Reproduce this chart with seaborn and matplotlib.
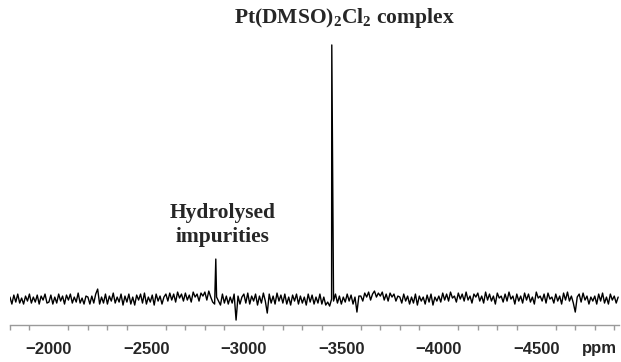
import numpy as np
import pandas as pd
import matplotlib
matplotlib.use("Agg")
import matplotlib.pyplot as plt
import seaborn as sns

# chemical shift grid of the baseline (ppm), 10 ppm steps
ppm_start = -1800
ppm_step = -10

# baseline noise (arbitrary units, one row = 200 ppm)
noise = [
    2, -5, 4, -3, 5, -4, 1, -5, 3, -2, 5, -4, 2, -3, 4, -5, 3, -1, 5, -4,
    -3, 4, -5, 2, -4, 5, -2, 3, -5, 4, -1, 5, -4, 2, -3, 6, -4, 1, -5, 3,
    2, -5, 3, -4, 5, 10, -5, 2, -4, 5, -5, 3, -2, 6, -4, 2, -3, 5, -6, 3,
    -3, 5, -5, 2, -6, 4, -1, 5, -4, 6, -5, 2, -3, 4, -6, 5, -2, 3, -5, 2,
    5, -2, 6, -1, 5, -3, 7, 1, 5, -2, 6, -1, 4, -3, 7, 2, 5, -2, 6, 3,
    7, -1, 8, 2, -3, -5, 2, -2, -6, 5, -4, 3, -5, 2, -4, 5, -21, 3, -5, 2,
    5, -4, 6, -5, 3, -2, 5, -6, 3, -4, 6, -2, -14, 5, -4, 3, -5, 6, -2, 4,
    -4, 5, -5, 2, -6, 4, -2, 5, -5, 3, -4, 2, -6, 5, -3, 4, -5, 2, -4, 5,
    -5, 2, -6, -3, -7, 0, -2, 5, -4, 3, -5, 2, -3, 5, -2, 4, -5, 2, -13, 3,
    3, -2, 6, 2, 7, -1, 5, 8, 2, 6, 3, 7, -1, 5, -2, 6, 2, 5, -2, 3,
    2, -4, 5, -2, 3, -5, 2, -4, 5, -6, 3, -2, 2, -5, 4, -3, 5, -6, 2, -2,
    3, -3, 6, -1, 5, -2, 7, 1, 3, -3, 6, 0, 5, -2, 7, -1, 3, -4, 5, 2,
    6, -2, 3, -4, 7, -1, 5, -2, 3, -5, 6, 1, 3, -3, 5, -2, 7, 0, 3, -5,
    5, -2, 3, -4, 6, -1, 5, -3, 2, -5, 7, 1, 3, -2, 5, -4, 6, 0, 2, -4,
    5, -2, 3, -5, 6, -1, 7, -2, 3, -4, -13, 2, 5, -3, 6, -1, 3, -5, 2, -2,
    3, -5, 5, -2, 6, -4, 2, -5, 5, -1, 3, -4, 2,
]

# resonances
peak_ppm = [-2856, -3451]
peak_height = [40, 254]

tick_ppm = [-2000, -2500, -3000, -3500, -4000, -4500]
tick_labels = ["\u22122000", "\u22122500", "\u22123000", "\u22123500",
               "\u22124000", "\u22124500"]

ppm = ppm_start + ppm_step * np.arange(len(noise))
df = pd.DataFrame({"ppm": np.concatenate([ppm, peak_ppm]),
                   "signal": np.concatenate([noise, peak_height])})
df = df.sort_values("ppm")

sns.set_style("white")
plt.rcParams["mathtext.fontset"] = "custom"
plt.rcParams["mathtext.rm"] = "Liberation Serif:bold"
plt.rcParams["mathtext.it"] = "Liberation Serif:bold"

fig = plt.figure(figsize=(6.21, 3.62), dpi=100)
ax = fig.add_axes([0.016, 0.102, 0.981, 0.807])
sns.lineplot(data=df, x="ppm", y="signal", color="black", linewidth=1.0,
             estimator=None, ax=ax)

sns.despine(ax=ax, left=True)
ax.spines["bottom"].set_color("#9a9a9a")
ax.spines["bottom"].set_linewidth(1.0)
ax.set_yticks([])
ax.set_xticks(tick_ppm)
ax.set_xticks(np.arange(-1800, -4950, -100), minor=True)
ax.set_xticklabels(tick_labels, fontfamily="Liberation Sans",
                   fontweight="bold", fontsize=12)
ax.tick_params(axis="x", which="major", direction="out", length=8, width=1,
               color="#9a9a9a", pad=4)
ax.tick_params(axis="x", which="minor", direction="out", length=3.5, width=1,
               color="#9a9a9a", bottom=True)
ax.set_xlim(-1800, -4925)
ax.set_ylim(-26, 266)
ax.set_xlabel("")
ax.set_ylabel("")
ax.text(0.997, -0.08, "ppm", transform=ax.transAxes, ha="right", va="center",
        fontfamily="Liberation Sans", fontweight="bold", fontsize=12)

ax.annotate("Pt(DMSO)$_2$Cl$_2$ complex", xy=(0.555, 0.951),
            xycoords="figure fraction", ha="center", va="center",
            fontfamily="Liberation Serif", fontweight="bold", fontsize=15.5)
ax.text(-2890, 74, "Hydrolysed\nimpurities", ha="center", va="center",
        fontfamily="Liberation Serif", fontweight="bold", fontsize=15.5,
        linespacing=1.25)

fig.savefig("out.png", dpi=100)
